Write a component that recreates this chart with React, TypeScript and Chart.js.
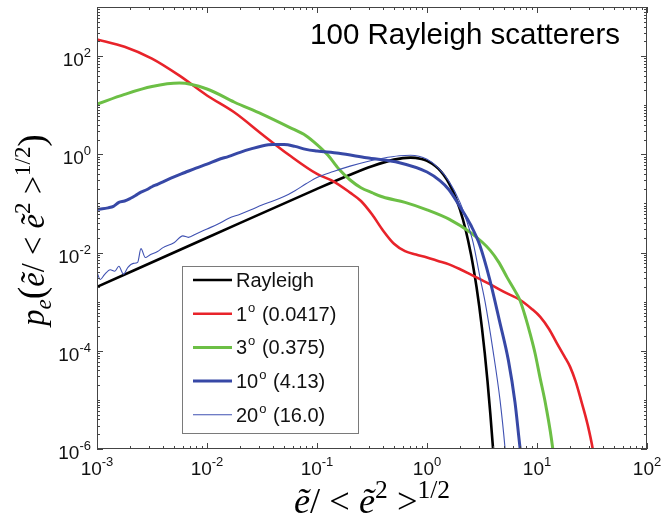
import React, { useEffect, useRef } from 'react';
import { Chart, registerables } from 'chart.js';

Chart.register(...registerables);

// ---- data (x = e/<e^2>^1/2, y = p_e) ----
const rayleighX = [0.001, 0.01, 0.1, 0.2, 0.316, 0.501, 0.708, 0.891, 1.0, 1.122, 1.259, 1.413, 1.585, 1.778, 1.995, 2.239, 2.512, 2.66, 2.818, 2.985, 3.162, 3.35, 3.548, 3.76, 3.98, 4.05];
const rayleighY = [0.002, 0.02, 0.198, 0.384, 0.572, 0.78, 0.858, 0.803, 0.736, 0.637, 0.516, 0.383, 0.257, 0.151, 0.0746, 0.0298, 0.00913, 0.00447, 0.00201, 8.06e-4, 2.87e-4, 9.0e-5, 2.4e-5, 5.4e-6, 1.05e-6, 6.1e-7];

const deg1X = [0.001, 0.00178, 0.00316, 0.00562, 0.01, 0.0178, 0.0316, 0.0562, 0.1, 0.141, 0.2, 0.251, 0.316, 0.398, 0.501, 0.631, 0.794, 1.0, 1.259, 1.585, 2.0, 2.512, 3.16, 3.98, 5.01, 7.08, 8.91, 10.7, 12.9, 15.1, 17.8, 20.0, 22.4, 25.1, 28.8, 32.4, 34.0];
const deg1Y = [219, 155, 89, 40, 15.8, 7.1, 2.57, 0.955, 0.398, 0.282, 0.166, 0.112, 0.06, 0.0282, 0.0151, 0.0107, 0.00912, 0.00794, 0.00676, 0.00575, 0.00457, 0.00355, 0.00275, 0.00209, 0.00158, 0.00107, 7.2e-4, 4.9e-4, 2.75e-4, 1.45e-4, 7.6e-5, 4.7e-5, 2.4e-5, 1.0e-5, 3.2e-6, 8.9e-7, 4.0e-7];

const deg3X = [0.001, 0.00178, 0.00316, 0.00562, 0.01, 0.0178, 0.0316, 0.0562, 0.0794, 0.1, 0.126, 0.158, 0.2, 0.251, 0.316, 0.398, 0.631, 1.0, 1.585, 2.512, 3.74, 4.5, 5.33, 6.31, 7.0, 7.94, 8.63, 9.6, 10.64, 12.0, 13.96, 14.5];
const deg3Y = [10.5, 16.6, 24, 28.2, 21.4, 11.5, 6.6, 3.55, 2.4, 1.58, 0.955, 0.5, 0.3, 0.209, 0.166, 0.135, 0.105, 0.0741, 0.0479, 0.0251, 0.0112, 0.0063, 0.00316, 0.00166, 0.00107, 4.47e-4, 2.29e-4, 8.9e-5, 2.88e-5, 7.9e-6, 9.5e-7, 4e-7];

const deg10X = [0.001, 0.00112, 0.00126, 0.00141, 0.00158, 0.00178, 0.002, 0.00224, 0.00251, 0.00282, 0.00316, 0.00355, 0.00398, 0.00501, 0.00631, 0.00794, 0.01, 0.0126, 0.0158, 0.02, 0.0251, 0.0316, 0.0398, 0.0501, 0.0631, 0.0794, 0.1, 0.158, 0.282, 0.562, 1.0, 1.318, 1.585, 2.0, 2.512, 3.02, 3.72, 4.57, 5.5, 6.31, 7.08, 7.5];
const deg10Y = [0.0759, 0.0776, 0.0813, 0.0871, 0.105, 0.112, 0.126, 0.145, 0.17, 0.19, 0.219, 0.245, 0.275, 0.347, 0.427, 0.525, 0.631, 0.776, 0.912, 1.1, 1.29, 1.48, 1.58, 1.58, 1.45, 1.26, 1.17, 1.05, 0.851, 0.676, 0.437, 0.288, 0.19, 0.0851, 0.0355, 0.0141, 0.00282, 3.98e-4, 6.3e-5, 8.9e-6, 8.9e-7, 4e-7];

const deg20X = [0.001, 0.00107, 0.00117, 0.00132, 0.00145, 0.00158, 0.00174, 0.00191, 0.00214, 0.00234, 0.00251, 0.00275, 0.00302, 0.00355, 0.00398, 0.00501, 0.00603, 0.00676, 0.00794, 0.01, 0.0126, 0.0158, 0.02, 0.0251, 0.0316, 0.0398, 0.0501, 0.0631, 0.0794, 0.1, 0.141, 0.2, 0.282, 0.398, 0.562, 0.708, 1.0, 1.259, 1.585, 1.995, 2.29, 2.63, 3.03, 3.37, 3.98, 4.61, 5.13, 5.3];
const deg20Y = [0.00398, 0.00282, 0.00355, 0.00447, 0.00417, 0.00525, 0.00363, 0.00501, 0.00603, 0.00631, 0.012, 0.00794, 0.00891, 0.0105, 0.0126, 0.0158, 0.0219, 0.0204, 0.024, 0.0302, 0.038, 0.0501, 0.0603, 0.0741, 0.0933, 0.112, 0.138, 0.182, 0.251, 0.339, 0.447, 0.575, 0.708, 0.832, 0.933, 0.955, 0.794, 0.537, 0.282, 0.105, 0.0447, 0.0158, 0.00316, 0.001, 1.02e-4, 1e-5, 1e-6, 4e-7];

const xTickExponents = [-3, -2, -1, 0, 1, 2];
const yTickExponents = [-6, -4, -2, 0, 2];

const legendMain = ['Rayleigh', '1', '3', '10', '20'];
const legendExtra = ['', ' (0.0417)', ' (0.375)', ' (4.13)', ' (16.0)'];
const chartTitle = '100 Rayleigh scatterers';

const seriesStyles = [
  { color: '#000000', width: 2.6 },
  { color: '#e8232a', width: 2.6 },
  { color: '#6cbf45', width: 3 },
  { color: '#3748a6', width: 3 },
  { color: '#3f51b2', width: 1.1 },
];

const SANS = '"Liberation Sans", Arial, Helvetica, sans-serif';
const SERIF = '"Liberation Serif", "Times New Roman", serif';

type Run = { t: string; it?: boolean; sup?: boolean; sub?: boolean; k?: number };

function runFont(r: Run, size: number) {
  const s = r.sup || r.sub ? size * 0.7 : size * (r.k || 1);
  return `${r.it ? 'italic ' : ''}${s.toFixed(1)}px ${SERIF}`;
}

function measureMath(ctx: CanvasRenderingContext2D, runs: Run[], size: number) {
  let total = 0;
  runs.forEach((r) => {
    ctx.font = runFont(r, size);
    total += ctx.measureText(r.t).width;
  });
  return total;
}

// draws runs centred on cx, scaled so that the whole expression spans targetLen px
function drawMath(ctx: CanvasRenderingContext2D, runs: Run[], cx: number, baseline: number, targetLen: number) {
  const size = 30 * targetLen / measureMath(ctx, runs, 30);
  const total = measureMath(ctx, runs, size);
  let x = cx - total / 2;
  ctx.textAlign = 'left';
  ctx.textBaseline = 'alphabetic';
  runs.forEach((r) => {
    ctx.font = runFont(r, size);
    const dy = r.sup ? -size * 0.42 : r.sub ? size * 0.2 : 0;
    ctx.fillText(r.t, x, baseline + dy);
    x += ctx.measureText(r.t).width;
  });
}

const decor = {
  id: 'decor',
  afterDraw(chart: any) {
    const ctx: CanvasRenderingContext2D = chart.ctx;
    const xs = chart.scales.x;
    const ys = chart.scales.y;
    const { left, right, top, bottom } = chart.chartArea;
    ctx.save();

    // legend
    const lx = 182.5, ly = 266.5, lw = 176, lh = 167;
    ctx.fillStyle = '#ffffff';
    ctx.fillRect(lx, ly, lw, lh);
    ctx.strokeStyle = '#7a7a7a';
    ctx.lineWidth = 1;
    ctx.strokeRect(lx, ly, lw, lh);
    legendMain.forEach((label, i) => {
      const yRow = 280 + 33.7 * i;
      const st = seriesStyles[i];
      ctx.strokeStyle = st.color;
      ctx.lineWidth = st.width;
      ctx.beginPath();
      ctx.moveTo(193, yRow);
      ctx.lineTo(232, yRow);
      ctx.stroke();
      ctx.fillStyle = '#111';
      ctx.textAlign = 'left';
      ctx.textBaseline = 'alphabetic';
      ctx.font = `20px ${SANS}`;
      let x = 236;
      ctx.fillText(label, x, yRow + 7);
      x += ctx.measureText(label).width;
      if (i > 0) {
        ctx.font = `13px ${SANS}`;
        ctx.fillText('o', x + 1, yRow - 2);
        x += ctx.measureText('o').width + 2;
        ctx.font = `20px ${SANS}`;
        ctx.fillText(legendExtra[i], x, yRow + 7);
      }
    });

    // box
    ctx.strokeStyle = '#444';
    ctx.lineWidth = 1;
    ctx.strokeRect(left + 0.5, top + 0.5, right - left - 1, bottom - top - 1);

    // ticks
    ctx.beginPath();
    for (let e = -3; e <= 2; e++) {
      for (let k = 1; k <= 9; k++) {
        const v = k * Math.pow(10, e);
        if (v > 100.0001) break;
        const px = Math.round(xs.getPixelForValue(v)) + 0.5;
        const len = k === 1 ? 6 : 3;
        ctx.moveTo(px, bottom);
        ctx.lineTo(px, bottom - len);
        ctx.moveTo(px, top);
        ctx.lineTo(px, top + len);
      }
    }
    for (let e = -6; e <= 3; e++) {
      for (let k = 1; k <= 9; k++) {
        const v = k * Math.pow(10, e);
        if (v > 1000.0001) break;
        const py = Math.round(ys.getPixelForValue(v)) + 0.5;
        const len = k === 1 && e % 2 === 0 ? 6 : 3;
        ctx.moveTo(left, py);
        ctx.lineTo(left + len, py);
        ctx.moveTo(right, py);
        ctx.lineTo(right - len, py);
      }
    }
    ctx.stroke();

    // tick labels
    ctx.fillStyle = '#111';
    ctx.textBaseline = 'alphabetic';
    xTickExponents.forEach((e) => {
      const px = xs.getPixelForValue(Math.pow(10, e));
      ctx.font = `19px ${SANS}`;
      const w1 = ctx.measureText('10').width;
      ctx.font = `13px ${SANS}`;
      const w2 = ctx.measureText(String(e)).width;
      const x0 = px - (w1 + w2) / 2;
      ctx.textAlign = 'left';
      ctx.font = `19px ${SANS}`;
      ctx.fillText('10', x0, bottom + 26);
      ctx.font = `13px ${SANS}`;
      ctx.fillText(String(e), x0 + w1, bottom + 17);
    });
    yTickExponents.forEach((e) => {
      const py = ys.getPixelForValue(Math.pow(10, e));
      ctx.font = `13px ${SANS}`;
      const w2 = ctx.measureText(String(e)).width;
      ctx.textAlign = 'left';
      ctx.fillText(String(e), 91 - w2, py + 1);
      ctx.font = `19px ${SANS}`;
      const w1 = ctx.measureText('10').width;
      ctx.fillText('10', 91 - w2 - w1, py + 10);
    });

    // title
    ctx.font = `29.5px ${SANS}`;
    ctx.textAlign = 'right';
    ctx.fillStyle = '#000';
    ctx.fillText(chartTitle, 620, 44);

    // axis titles
    ctx.fillStyle = '#000';
    const xRuns: Run[] = [
      { t: '\u1EBD', it: true }, { t: '/' }, { t: ' < ' }, { t: '\u1EBD', it: true },
      { t: '2', sup: true }, { t: ' >' }, { t: '1/2', sup: true },
    ];
    drawMath(ctx, xRuns, (left + right) / 2, 513, 156);

    const yRuns: Run[] = [
      { t: 'p', it: true }, { t: 'e', it: true, sub: true }, { t: '(', k: 1.15 },
      { t: '\u1EBD', it: true }, { t: '/' }, { t: ' < ' }, { t: '\u1EBD', it: true },
      { t: '2', sup: true }, { t: ' >' }, { t: '1/2', sup: true }, { t: ')', k: 1.15 },
    ];
    ctx.save();
    ctx.translate(44, 230);
    ctx.rotate(-Math.PI / 2);
    drawMath(ctx, yRuns, 0, 0, 192);
    ctx.restore();

    ctx.restore();
  },
};

function series(xs: number[], ys: number[], idx: number, label: string) {
  const st = seriesStyles[idx];
  return {
    label,
    data: xs.map((x, i) => ({ x, y: ys[i] })),
    borderColor: st.color,
    backgroundColor: st.color,
    borderWidth: st.width,
    pointRadius: 0,
    fill: false,
    cubicInterpolationMode: 'monotone' as const,
    clip: 0,
  };
}

export default function App() {
  const ref = useRef<HTMLCanvasElement | null>(null);
  useEffect(() => {
    if (!ref.current) return;
    const chart = new Chart(ref.current, {
      type: 'line',
      data: {
        datasets: [
          series(deg20X, deg20Y, 4, '20'),
          series(deg10X, deg10Y, 3, '10'),
          series(deg3X, deg3Y, 2, '3'),
          series(deg1X, deg1Y, 1, '1'),
          series(rayleighX, rayleighY, 0, 'Rayleigh'),
        ] as any,
      },
      options: {
        animation: false,
        responsive: false,
        events: [],
        layout: { padding: { top: 7, right: 17, left: 0, bottom: 0 } },
        plugins: { legend: { display: false }, tooltip: { enabled: false }, title: { display: false } },
        scales: {
          x: {
            type: 'logarithmic',
            min: 1e-3,
            max: 1e2,
            grid: { display: false },
            border: { display: false },
            ticks: { display: false },
            afterFit: (s: any) => { s.height = 71; },
          },
          y: {
            type: 'logarithmic',
            min: 1e-6,
            max: 1e3,
            grid: { display: false },
            border: { display: false },
            ticks: { display: false },
            afterFit: (s: any) => { s.width = 97; },
          },
        },
      } as any,
      plugins: [decor],
    });
    return () => chart.destroy();
  }, []);
  return (
    <div style={{ position: 'absolute', left: 0, top: 0, width: 664, height: 520, background: '#fff' }}>
      <canvas ref={ref} width={664} height={520} style={{ display: 'block' }} />
    </div>
  );
}
